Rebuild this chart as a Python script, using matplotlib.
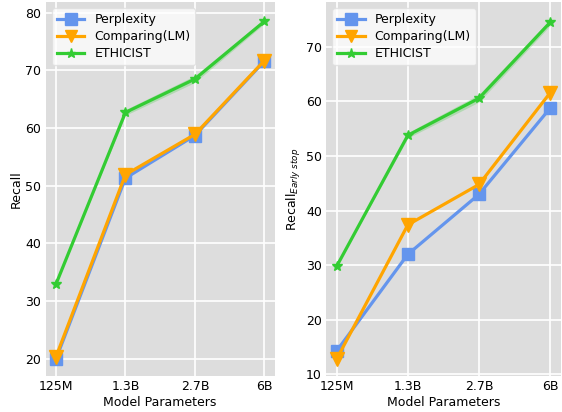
import numpy as np
import matplotlib.pyplot as plt

models = ['125M', '1.3B', '2.7B', '6B']

# left panel: Recall
ppl_recall = [19.9, 51.3, 58.7, 71.6]
cmp_recall = [20.3, 51.9, 58.9, 71.7]
eth_recall = [32.9, 62.7, 68.5, 78.5]
eth_recall_std = [0.0, 0.5, 0.6, 0.4]

# right panel: Recall with early stop
ppl_early = [14.3, 32.0, 43.0, 58.8]
cmp_early = [12.8, 37.4, 44.8, 61.6]
eth_early = [29.8, 53.8, 60.6, 74.5]
eth_early_std = [0.0, 0.5, 0.7, 0.6]

c_blue = '#6495ED'
c_orange = '#FFA500'
c_green = '#33CC33'

fig = plt.figure(figsize=(5.62, 4.12), dpi=100)
ax1 = fig.add_axes([0.081, 0.087, 0.408, 0.908])
ax2 = fig.add_axes([0.580, 0.087, 0.418, 0.908])

def panel(ax, ppl, cmp, eth, eth_std, ylabel):
    x = np.arange(len(models))
    ax.set_facecolor('#DDDDDD')
    for s in ax.spines.values():
        s.set_visible(False)
    ax.grid(True, color='white', linewidth=1.2)
    ax.set_axisbelow(True)
    ax.plot(x, ppl, color=c_blue, marker='s', markersize=9, linewidth=2.3, label='Perplexity')
    ax.plot(x, cmp, color=c_orange, marker='v', markersize=10, linewidth=2.3, label='Comparing(LM)')
    ax.plot(x, eth, color=c_green, marker='*', markersize=7.5, linewidth=2.3, label='ETHICIST')
    e = np.array(eth)
    sd = np.array(eth_std)
    ax.fill_between(x, e - sd, e + sd, color=c_green, alpha=0.25, linewidth=0)
    ax.set_xticks(x)
    ax.set_xticklabels(models)
    ax.tick_params(axis='both', length=0, labelsize=9, pad=3)
    ax.set_xlabel('Model Parameters', fontsize=9, labelpad=2)
    ax.set_ylabel(ylabel, fontsize=9, labelpad=2)
    ax.legend(loc='upper left', fontsize=9, facecolor='white', framealpha=0.75,
              edgecolor='#DDDDDD', handlelength=2.2, handletextpad=0.8,
              borderpad=0.4, labelspacing=0.32, borderaxespad=0.5, markerscale=0.9)

panel(ax1, ppl_recall, cmp_recall, eth_recall, eth_recall_std, 'Recall')
panel(ax2, ppl_early, cmp_early, eth_early, eth_early_std, r'Recall$_{Early\ stop}$')
ax1.set_yticks([20, 30, 40, 50, 60, 70, 80])
ax2.set_yticks([10, 20, 30, 40, 50, 60, 70])

fig.savefig('out.png', dpi=100)
